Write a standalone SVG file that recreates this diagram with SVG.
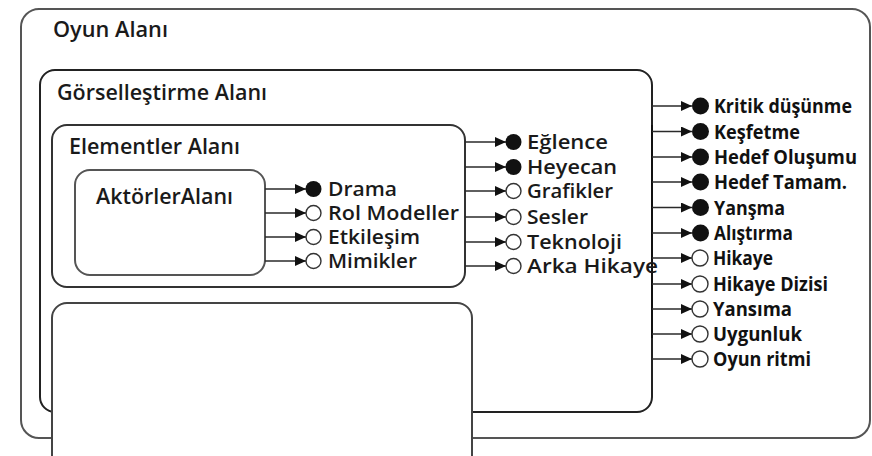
<svg xmlns="http://www.w3.org/2000/svg" width="872" height="456" viewBox="0 0 872 456">
<style>
.box{fill:#fff;stroke:#333;stroke-width:2}
.title{font-family:"Open Sans","Liberation Sans",sans-serif;font-size:22px;font-weight:600;fill:#1a1a1a}
.item{font-family:"Open Sans","Liberation Sans",sans-serif;font-size:19px;font-weight:600;fill:#1a1a1a}
.itemb{font-family:"Open Sans","Liberation Sans",sans-serif;font-size:19.5px;font-weight:700;fill:#111}
.conn{stroke:#2a2a2a;stroke-width:1.6;fill:none;marker-end:url(#arr)}
.full{fill:#111}
.empty{fill:#fff;stroke:#333;stroke-width:1.4}
</style>
<defs>
<marker id="arr" markerUnits="userSpaceOnUse" markerWidth="11" markerHeight="10" refX="11" refY="5" orient="auto">
<path d="M0,0 L11,5 L0,10 z" fill="#111"/>
</marker>
</defs>
<rect width="872" height="456" fill="#fff"/>
<g id="oyun-alani">
<rect class="box" x="21" y="9" width="849" height="429" rx="18" style="stroke:#555"/>
<text class="title" x="53" y="37" textLength="115" lengthAdjust="spacingAndGlyphs">Oyun Alanı</text>
</g>
<g id="gorsellestirme-alani">
<rect class="box" x="40" y="70" width="612" height="342" rx="15" style="stroke:#222"/>
<text class="title" x="57" y="100" textLength="210" lengthAdjust="spacingAndGlyphs">Görselleştirme Alanı</text>
</g>
<g id="elementler-alani">
<rect class="box" x="52" y="125" width="413" height="162" rx="15"/>
<text class="title" x="69" y="154" textLength="171" lengthAdjust="spacingAndGlyphs">Elementler Alanı</text>
</g>
<g id="aktorler-alani">
<rect class="box" x="75" y="170" width="190" height="105" rx="15" style="stroke:#555"/>
<text class="title" x="96" y="204" textLength="137" lengthAdjust="spacingAndGlyphs">AktörlerAlanı</text>
</g>
<g id="alt-alan">
<rect class="box" x="52" y="303" width="420" height="200" rx="15" style="stroke:#444"/>
</g>
<g id="connectors">
<line x1="652" y1="125" x2="652" y2="338" stroke="#111" stroke-width="2"/>
<line class="conn" x1="265" y1="189" x2="306" y2="189"/>
<line class="conn" x1="265" y1="213" x2="306" y2="213"/>
<line class="conn" x1="265" y1="237" x2="306" y2="237"/>
<line class="conn" x1="265" y1="261" x2="306" y2="261"/>
<line class="conn" x1="465" y1="142" x2="506" y2="142"/>
<line class="conn" x1="465" y1="167" x2="506" y2="167"/>
<line class="conn" x1="465" y1="191" x2="506" y2="191"/>
<line class="conn" x1="465" y1="217" x2="506" y2="217"/>
<line class="conn" x1="465" y1="242" x2="506" y2="242"/>
<line class="conn" x1="465" y1="266" x2="506" y2="266"/>
<line class="conn" x1="652" y1="106" x2="692" y2="106"/>
<line class="conn" x1="652" y1="131.5" x2="692" y2="131.5"/>
<line class="conn" x1="652" y1="157" x2="692" y2="157"/>
<line class="conn" x1="652" y1="182" x2="692" y2="182"/>
<line class="conn" x1="652" y1="207.5" x2="692" y2="207.5"/>
<line class="conn" x1="652" y1="233" x2="692" y2="233"/>
<line class="conn" x1="652" y1="258" x2="692" y2="258"/>
<line class="conn" x1="652" y1="284" x2="692" y2="284"/>
<line class="conn" x1="652" y1="309" x2="692" y2="309"/>
<line class="conn" x1="652" y1="334" x2="692" y2="334"/>
<line class="conn" x1="652" y1="359" x2="692" y2="359"/>
</g>
<g id="drama"><circle class="full" cx="313.5" cy="189" r="8"/><text class="item" x="328" y="196" textLength="69" lengthAdjust="spacingAndGlyphs">Drama</text></g>
<g id="rol-modeller"><circle class="empty" cx="313.5" cy="213" r="7.5"/><text class="item" x="328" y="220" textLength="131" lengthAdjust="spacingAndGlyphs">Rol Modeller</text></g>
<g id="etkilesim"><circle class="empty" cx="313.5" cy="237" r="7.5"/><text class="item" x="328" y="244" textLength="92" lengthAdjust="spacingAndGlyphs">Etkileşim</text></g>
<g id="mimikler"><circle class="empty" cx="313.5" cy="261" r="7.5"/><text class="item" x="328" y="268" textLength="89" lengthAdjust="spacingAndGlyphs">Mimikler</text></g>
<g id="eglence"><circle class="full" cx="513.5" cy="142" r="8"/><text class="item" x="527" y="149" textLength="81" lengthAdjust="spacingAndGlyphs">Eğlence</text></g>
<g id="heyecan"><circle class="full" cx="513.5" cy="167" r="8"/><text class="item" x="527" y="174" textLength="90" lengthAdjust="spacingAndGlyphs">Heyecan</text></g>
<g id="grafikler"><circle class="empty" cx="513.5" cy="191" r="7.5"/><text class="item" x="527" y="198" textLength="86" lengthAdjust="spacingAndGlyphs">Grafikler</text></g>
<g id="sesler"><circle class="empty" cx="513.5" cy="217" r="7.5"/><text class="item" x="527" y="224" textLength="61" lengthAdjust="spacingAndGlyphs">Sesler</text></g>
<g id="teknoloji"><circle class="empty" cx="513.5" cy="242" r="7.5"/><text class="item" x="527" y="249" textLength="95" lengthAdjust="spacingAndGlyphs">Teknoloji</text></g>
<g id="arka-hikaye"><circle class="empty" cx="513.5" cy="266" r="7.5"/><text class="item" x="527" y="273" textLength="131" lengthAdjust="spacingAndGlyphs">Arka Hikaye</text></g>
<g id="kritik-dusunme"><circle class="full" cx="700.5" cy="106" r="8.5"/><text class="itemb" x="714" y="113" textLength="138" lengthAdjust="spacingAndGlyphs">Kritik düşünme</text></g>
<g id="kesfetme"><circle class="full" cx="700.5" cy="131.5" r="8.5"/><text class="itemb" x="714" y="138.5" textLength="86" lengthAdjust="spacingAndGlyphs">Keşfetme</text></g>
<g id="hedef-olusumu"><circle class="full" cx="700.5" cy="157" r="8.5"/><text class="itemb" x="714" y="164" textLength="143" lengthAdjust="spacingAndGlyphs">Hedef Oluşumu</text></g>
<g id="hedef-tamam"><circle class="full" cx="700.5" cy="182" r="8.5"/><text class="itemb" x="714" y="189" textLength="133" lengthAdjust="spacingAndGlyphs">Hedef Tamam.</text></g>
<g id="yansma"><circle class="full" cx="700.5" cy="207.5" r="8.5"/><text class="itemb" x="714" y="214.5" textLength="71" lengthAdjust="spacingAndGlyphs">Yanşma</text></g>
<g id="alistirma"><circle class="full" cx="700.5" cy="233" r="8.5"/><text class="itemb" x="714" y="240" textLength="79" lengthAdjust="spacingAndGlyphs">Alıştırma</text></g>
<g id="hikaye"><circle class="empty" cx="700" cy="258" r="8"/><text class="itemb" x="713" y="265" textLength="60" lengthAdjust="spacingAndGlyphs">Hikaye</text></g>
<g id="hikaye-dizisi"><circle class="empty" cx="700" cy="284" r="8"/><text class="itemb" x="713" y="291" textLength="115" lengthAdjust="spacingAndGlyphs">Hikaye Dizisi</text></g>
<g id="yansima"><circle class="empty" cx="700" cy="309" r="8"/><text class="itemb" x="713" y="316" textLength="79" lengthAdjust="spacingAndGlyphs">Yansıma</text></g>
<g id="uygunluk"><circle class="empty" cx="700" cy="334" r="8"/><text class="itemb" x="713" y="341" textLength="89" lengthAdjust="spacingAndGlyphs">Uygunluk</text></g>
<g id="oyun-ritmi"><circle class="empty" cx="700" cy="359" r="8"/><text class="itemb" x="713" y="366" textLength="98" lengthAdjust="spacingAndGlyphs">Oyun ritmi</text></g>
</svg>
